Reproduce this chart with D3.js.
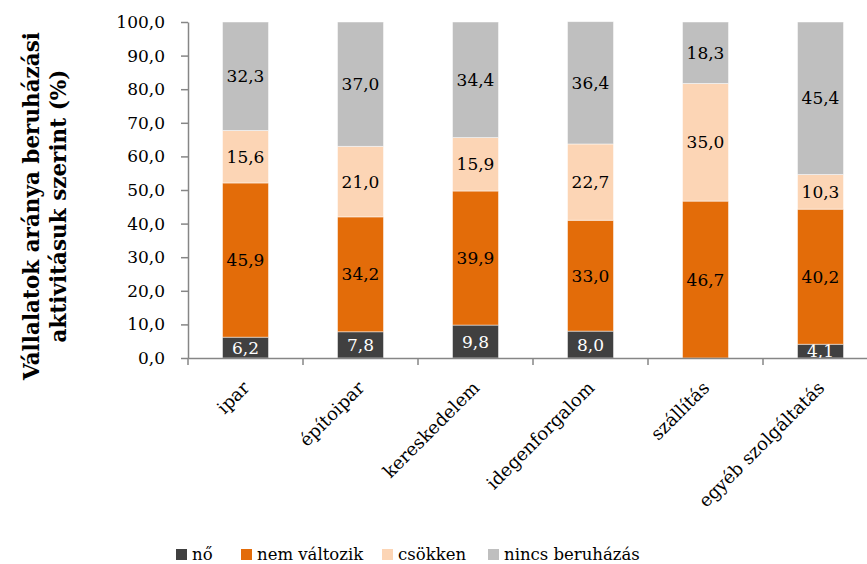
<!DOCTYPE html>
<html>
<head>
<meta charset="utf-8">
<script src="https://cdn.jsdelivr.net/npm/d3@7"></script>
<style>
  body { margin: 0; background: #fff; }
  text { font-family: "DejaVu Serif", serif; }
</style>
</head>
<body>
<div class="chart"></div>
<script>
// data
const categories = ["ipar", "építoipar", "kereskedelem", "idegenforgalom", "szállítás", "egyéb szolgáltatás"];
const seriesNames = ["nő", "nem változik", "csökken", "nincs beruházás"];
const no = [6.2, 7.8, 9.8, 8.0, 0, 4.1];
const nemValtozik = [45.9, 34.2, 39.9, 33.0, 46.7, 40.2];
const csokken = [15.6, 21.0, 15.9, 22.7, 35.0, 10.3];
const nincs = [32.3, 37.0, 34.4, 36.4, 18.3, 45.4];
const yTicks = [0, 10, 20, 30, 40, 50, 60, 70, 80, 90, 100];

const colors = ["#404040", "#E36C09", "#FCD5B5", "#BFBFBF"];
const labelColors = ["#fff", "#000", "#000", "#000"];

const W = 867, H = 564;
const margin = {top: 22, left: 188, bottom: 206};
const plotRight = 878;
const font = "DejaVu Serif, serif";

const svg = d3.select(".chart").append("svg")
    .attr("width", W)
    .attr("height", H);

// build stacked table
const table = categories.map((c, i) => ({
    cat: c, s0: no[i], s1: nemValtozik[i], s2: csokken[i], s3: nincs[i]
}));
const stack = d3.stack().keys(["s0", "s1", "s2", "s3"])(table);

const x = d3.scaleBand()
    .domain(categories)
    .range([margin.left, plotRight])
    .paddingInner(0.6)
    .paddingOuter(0.3);

const y = d3.scaleLinear()
    .domain([0, 100])
    .range([H - margin.bottom, margin.top]);

// bars
const layers = svg.selectAll(".layer")
    .data(stack)
    .enter().append("g")
    .attr("class", "layer")
    .attr("fill", (d, i) => colors[i]);

layers.selectAll("rect")
    .data(d => d.filter(p => p[1] - p[0] > 0))
    .enter().append("rect")
    .attr("x", d => x(d.data.cat))
    .attr("width", x.bandwidth())
    .attr("y", d => y(d[1]))
    .attr("height", d => y(d[0]) - y(d[1]))
    .attr("stroke", "#fff")
    .attr("stroke-opacity", 0.6)
    .attr("stroke-width", 0.8);

// labels
layers.each(function(layer, i) {
    d3.select(this).selectAll("text")
        .data(layer.filter(p => p[1] - p[0] > 0))
        .enter().append("text")
        .attr("x", d => x(d.data.cat) + x.bandwidth() / 2)
        .attr("y", d => (y(d[0]) + y(d[1])) / 2)
        .attr("dy", "0.36em")
        .attr("text-anchor", "middle")
        .attr("fill", labelColors[i])
        .style("font-size", "17px")
        .text(d => d3.format(".1f")(d[1] - d[0]).replace(".", ","));
});

// y axis
const yAxis = svg.append("g")
    .attr("transform", "translate(" + margin.left + ",0)")
    .call(d3.axisLeft(y).tickValues(yTicks).tickSize(7).tickSizeOuter(0)
        .tickFormat(d => d3.format(".1f")(d).replace(".", ",")));
yAxis.selectAll("line, path").attr("stroke", "#868686").attr("stroke-width", 1.5);
yAxis.selectAll("text").attr("fill", "#000").style("font-size", "17px")
    .style("font-family", font).attr("x", -23);

// x axis
const xAxis = svg.append("g")
    .attr("transform", "translate(0," + y(0) + ")")
    .call(d3.axisBottom(x).tickSize(0).tickSizeOuter(0));
xAxis.select("path").attr("stroke", "#868686").attr("stroke-width", 1.5);
xAxis.selectAll("text")
    .attr("fill", "#000")
    .style("font-size", "18px")
    .style("font-family", font)
    .attr("text-anchor", "end")
    .attr("dy", 0)
    .attr("y", 0)
    .attr("transform", "translate(5,31) rotate(-45)");

// tick marks between categories
const gap = (x.step() - x.bandwidth()) / 2;
xAxis.selectAll(".sep")
    .data(categories)
    .enter().append("line")
    .attr("class", "sep")
    .attr("x1", d => x(d) - gap)
    .attr("x2", d => x(d) - gap)
    .attr("y1", 0)
    .attr("y2", 7)
    .attr("stroke", "#868686")
    .attr("stroke-width", 1.5);

// y axis title
const title = svg.append("text")
    .attr("transform", "translate(0,206) rotate(-90)")
    .attr("text-anchor", "middle")
    .style("font-size", "21.5px")
    .style("font-weight", "bold");
title.append("tspan").attr("x", 0).attr("y", 39).text("Vállalatok aránya beruházási");
title.append("tspan").attr("x", 0).attr("y", 66).text("aktivitásuk szerint (%)");

// legend
const legendX = [176, 241, 382, 488];
const legend = svg.selectAll(".legend")
    .data(seriesNames)
    .enter().append("g")
    .attr("class", "legend")
    .attr("transform", (d, i) => "translate(" + legendX[i] + ",549)");
legend.append("rect")
    .attr("width", 11).attr("height", 11)
    .attr("fill", (d, i) => colors[i]);
legend.append("text")
    .attr("x", 16).attr("y", 5.5).attr("dy", "0.36em")
    .style("font-size", "16.5px")
    .text(d => d);
</script>
</body>
</html>
